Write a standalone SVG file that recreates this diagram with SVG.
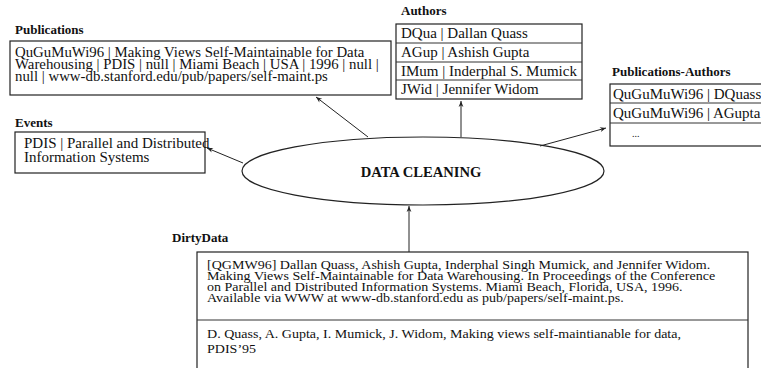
<svg xmlns="http://www.w3.org/2000/svg" width="761" height="368" viewBox="0 0 761 368">
<style>
.t{font-family:"Liberation Serif","Times New Roman",serif;font-size:15px;fill:#111}
.p{font-family:"Liberation Serif","Times New Roman",serif;font-size:14px;fill:#111}
.d{font-family:"Liberation Serif","Times New Roman",serif;font-size:13px;fill:#111}
.h{font-family:"Liberation Serif","Times New Roman",serif;font-size:13px;font-weight:bold;fill:#111}
.b{fill:#fff;stroke:#222;stroke-width:1.2}
.l{stroke:#333;stroke-width:1}
.c{stroke:#222;stroke-width:1;fill:none;marker-end:url(#ah)}
</style>
<defs>
<marker id="ah" viewBox="0 0 10 10" refX="10" refY="5" markerWidth="9" markerHeight="6" orient="auto" markerUnits="userSpaceOnUse">
<path d="M0,1 L10,5 L0,9 L3,5 z" fill="#222"/>
</marker>
</defs>
<rect width="761" height="368" fill="#fff"/>
<g id="publications">
<text class="h" x="15" y="34">Publications</text>
<rect class="b" x="10" y="41" width="381" height="54"/>
<g transform="translate(15,0) scale(1.06,1)">
<text class="p" x="0" y="57">QuGuMuWi96 | Making Views Self-Maintainable for Data</text>
<text class="p" x="0" y="69">Warehousing | PDIS | null | Miami Beach | USA | 1996 | null |</text>
<text class="p" x="0" y="81">null | www-db.stanford.edu/pub/papers/self-maint.ps</text>
</g>
</g>
<g id="authors">
<text class="h" x="401" y="15">Authors</text>
<rect class="b" x="396" y="24" width="186" height="75"/>
<line class="l" x1="396" y1="43" x2="582" y2="43"/>
<line class="l" x1="396" y1="62" x2="582" y2="62"/>
<line class="l" x1="396" y1="80" x2="582" y2="80"/>
<text class="t" x="401" y="38">DQua | Dallan Quass</text>
<text class="t" x="401" y="57">AGup | Ashish Gupta</text>
<text class="t" x="401" y="76">IMum | Inderphal S. Mumick</text>
<text class="t" x="401" y="94">JWid | Jennifer Widom</text>
</g>
<g id="pubauthors">
<text class="h" x="612" y="76">Publications-Authors</text>
<rect class="b" x="610" y="84" width="160" height="62"/>
<line class="l" x1="610" y1="103" x2="761" y2="103"/>
<line class="l" x1="610" y1="123" x2="761" y2="123"/>
<text class="t" x="613" y="99">QuGuMuWi96 | DQuass</text>
<text class="t" x="613" y="118">QuGuMuWi96 | AGupta</text>
<text class="t" x="632" y="137" style="font-size:10px">...</text>
</g>
<g id="events">
<text class="h" x="15" y="127">Events</text>
<rect class="b" x="15" y="132" width="190" height="41"/>
<text class="t" x="24" y="148">PDIS | Parallel and Distributed</text>
<text class="t" x="24" y="162">Information Systems</text>
</g>
<g id="cleaning">
<ellipse class="b" cx="423" cy="171" rx="181" ry="34"/>
<text x="421" y="177" text-anchor="middle" style="font-family:'Liberation Serif','Times New Roman',serif;font-size:14.6px;font-weight:bold;fill:#111">DATA CLEANING</text>
</g>
<g id="dirtydata">
<text class="h" x="172" y="242">DirtyData</text>
<rect class="b" x="197" y="252" width="551" height="130"/>
<line class="l" x1="197" y1="320" x2="748" y2="320"/>
<g transform="translate(207,0) scale(1.08,1)">
<text class="d" x="0" y="269">[QGMW96] Dallan Quass, Ashish Gupta, Inderphal Singh Mumick, and Jennifer Widom.</text>
<text class="d" x="0" y="280">Making Views Self-Maintainable for Data Warehousing. In Proceedings of the Conference</text>
<text class="d" x="0" y="291">on Parallel and Distributed Information Systems. Miami Beach, Florida, USA, 1996.</text>
<text class="d" x="0" y="302">Available via WWW at www-db.stanford.edu as pub/papers/self-maint.ps.</text>
<text class="d" x="0" y="338">D. Quass, A. Gupta, I. Mumick, J. Widom, Making views self-maintianable  for data,</text>
<text class="d" x="0" y="353">PDIS’95</text>
</g>
</g>
<g id="connectors">
<line class="c" x1="368" y1="137" x2="316" y2="97"/>
<line class="c" x1="461" y1="137" x2="461" y2="101"/>
<line class="c" x1="540" y1="146" x2="606" y2="128"/>
<line class="c" x1="243" y1="163" x2="207" y2="148"/>
<line class="c" x1="409" y1="252" x2="409" y2="206"/>
</g>
</svg>
